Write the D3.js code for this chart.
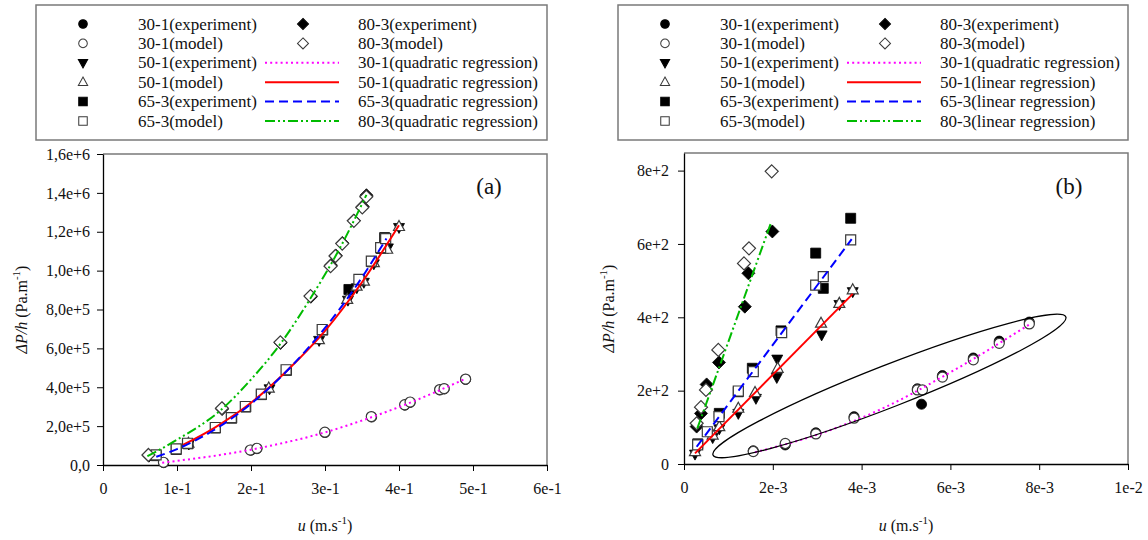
<!DOCTYPE html>
<html>
<head>
<meta charset="utf-8">
<script src="https://cdn.jsdelivr.net/npm/d3@7"></script>
<style>
  body { margin: 0; background: #fff; }
  svg text { font-family: "Liberation Serif", Tinos, "Times New Roman", Times, "DejaVu Serif", "Noto Serif", serif; fill: #111; }
</style>
</head>
<body>
<div id="chart"></div>
<script>
// ---- data ----
// panel (a): u in m/s, dP/h in Pa/m
var a30Exp = [[0.082,12000],[0.2,76000],[0.208,84000],[0.3,167000],[0.363,247000],[0.408,308000],[0.415,322000],[0.455,386000],[0.461,391000],[0.49,440000]];
var a30Model = [[0.0817,14000],[0.199,77000],[0.208,86000],[0.2998,169000],[0.3626,249000],[0.4077,310000],[0.415,324000],[0.455,388000],[0.461,393000],[0.49,442000]];
var a50Exp = [[0.116,108000],[0.225,392000],[0.292,641000],[0.331,848000],[0.343,912000],[0.3525,940000],[0.366,1035000],[0.385,1117000],[0.4,1222000]];
var a50Model = [[0.1155,112000],[0.224,396000],[0.2917,645000],[0.33,852000],[0.3427,920000],[0.3526,946000],[0.366,1041000],[0.384,1110000],[0.4,1227000]];
var a65Exp = [[0.072,48000],[0.099,80000],[0.115,109000],[0.152,190000],[0.174,241000],[0.193,298000],[0.214,362000],[0.248,487000],[0.297,694000],[0.3323,903000],[0.363,1046000],[0.376,1114000],[0.3806,1170000]];
var a65Model = [[0.0718,51600],[0.0989,82600],[0.1142,112000],[0.1517,193000],[0.1734,244000],[0.1923,301000],[0.214,365000],[0.2474,490000],[0.2962,697000],[0.3458,955000],[0.3626,1049000],[0.3752,1118000],[0.382,1165000]];
var a80Exp = [[0.062,48000],[0.161,288000],[0.24,628000],[0.281,866000],[0.308,1028000],[0.3145,1078000],[0.3235,1142000],[0.339,1258000],[0.351,1330000],[0.356,1388000]];
var a80Model = [[0.0614,51600],[0.1607,292000],[0.2397,631000],[0.2804,869000],[0.3075,1023000],[0.3142,1075000],[0.3233,1139000],[0.339,1256000],[0.3504,1325000],[0.3558,1380000]];
// regression curves
var a30Fit = [[0.08,12000],[0.2,79000],[0.3,168000],[0.36,242000],[0.41,313000],[0.49,444000]];
var a50Fit = [[0.108,103000],[0.15,190000],[0.2,320000],[0.25,490000],[0.3,690000],[0.35,940000],[0.4,1233000]];
var a65Fit = [[0.072,42000],[0.1,82000],[0.15,180000],[0.2,315000],[0.25,490000],[0.3,705000],[0.35,965000],[0.383,1165000]];
var a80Fit = [[0.06,45000],[0.1,130000],[0.16,285000],[0.2,440000],[0.24,625000],[0.28,855000],[0.32,1115000],[0.356,1390000]];

// panel (b)
var b30Exp = [[0.00156,36],[0.00228,52],[0.00297,85],[0.00383,129],[0.00535,163],[0.005256,205],[0.00582,241],[0.006516,289],[0.0071,335],[0.007777,387]];
var b30Model = [[0.00156,34],[0.00228,56],[0.00297,82],[0.00383,125],[0.005256,202],[0.00537,202],[0.00582,237],[0.006516,284],[0.0071,329],[0.007777,382]];
var b50Exp = [[0.000248,27],[0.000646,72],[0.000795,96],[0.001223,138],[0.00162,179],[0.0021,286],[0.00209,236],[0.0031,352],[0.0035,435],[0.0038,470]];
var b50Model = [[0.000248,34],[0.000646,79],[0.000795,102],[0.001223,152],[0.0016,195],[0.00211,261],[0.003086,384],[0.003498,438],[0.0038,475]];
var b65Exp = [[0.00031,55],[0.000795,138],[0.001223,197],[0.001539,261],[0.002185,363],[0.002966,575],[0.003137,479],[0.003754,670]];
var b65Model = [[0.000308,52],[0.000525,88],[0.000788,129],[0.001223,199],[0.001561,252],[0.0022,358],[0.002966,488],[0.003137,511],[0.003754,611]];
var b80Exp = [[0.000285,102],[0.000383,138],[0.00051,217],[0.000788,277],[0.00137,429],[0.00145,520],[0.00199,634]];
var b80Model = [[0.000285,111],[0.000383,155],[0.000495,202],[0.000773,311],[0.001351,547],[0.001464,588],[0.001975,798]];
var b30Fit = [[0.0016,32],[0.003,80],[0.0045,153],[0.006,250],[0.0078,382]];
var b50Fit = [[0.000248,29],[0.0038,464]];
var b65Fit = [[0.000285,47],[0.003777,613]];
var b80Fit = [[0.0003,97],[0.00196,658]];
// ellipse around the 30-1 points in (b): ends of the long axis
var bEllipseEnds = [[0.000653,24.6],[0.0086,401]];

// ticks
var aXTicks = [0, 0.1, 0.2, 0.3, 0.4, 0.5, 0.6];
var aXLabels = ["0", "1e-1", "2e-1", "3e-1", "4e-1", "5e-1", "6e-1"];
var aYTicks = [0, 2e5, 4e5, 6e5, 8e5, 1e6, 1.2e6, 1.4e6, 1.6e6];
var aYLabels = ["0,0", "2,0e+5", "4,0e+5", "6,0e+5", "8,0e+5", "1,0e+6", "1,2e+6", "1,4e+6", "1,6e+6"];
var bXTicks = [0, 0.002, 0.004, 0.006, 0.008, 0.01];
var bXLabels = ["0", "2e-3", "4e-3", "6e-3", "8e-3", "1e-2"];
var bYTicks = [0, 200, 400, 600, 800];
var bYLabels = ["0", "2e+2", "4e+2", "6e+2", "8e+2"];

var expNames = ["30-1(experiment)", "30-1(model)", "50-1(experiment)", "50-1(model)", "65-3(experiment)", "65-3(model)"];
var aFitNames = ["30-1(quadratic regression)", "50-1(quadratic regression)", "65-3(quadratic regression)", "80-3(quadratic regression)"];
var bFitNames = ["30-1(quadratic regression)", "50-1(linear regression)", "65-3(linear regression)", "80-3(linear regression)"];

// ---- drawing ----
var svg = d3.select("#chart").append("svg")
  .attr("width", 1148)
  .attr("height", 540);

var frameGray = "#7a7a7a";
var fitStyles = [
  {color: "#ff00ff", dash: "2,3.2"},
  {color: "#ff0000", dash: null},
  {color: "#0000ff", dash: "9,5"},
  {color: "#00bb00", dash: "10,3,2,3,2,3"}
];

// marker path centred on 0,0
function markerPath(kind) {
  if (kind == "circle") return d3.symbol(d3.symbolCircle, 80)();
  if (kind == "square") return "M-5,-5H5V5H-5Z";
  if (kind == "diamond") return "M0,-6.5L6.5,0L0,6.5L-6.5,0Z";
  if (kind == "up") return "M0,-6L5.5,4L-5.5,4Z";
  if (kind == "down") return "M0,6L5.5,-4L-5.5,-4Z";
}

function drawMarkers(g, data, x, y, kind, filled) {
  g.selectAll(null)
    .data(data)
    .enter()
    .append("path")
    .attr("d", markerPath(kind))
    .attr("transform", d => `translate(${x(d[0])},${y(d[1])})`)
    .attr("fill", filled ? "#000" : "#fff")
    .attr("stroke", filled ? "#000" : "#3a3a3a")
    .attr("stroke-width", filled ? 0.8 : 1.2);
}

function drawPanel(p) {
  var x = d3.scaleLinear().domain([0, p.xMax]).range([p.left, p.right]);
  var y = d3.scaleLinear().domain([0, p.yMax]).range([p.bottom, p.top]);

  var g = svg.append("g");

  // top and right of the frame are grey
  g.append("path")
    .attr("d", `M${p.left},${p.top}H${p.right}V${p.bottom}`)
    .attr("fill", "none")
    .attr("stroke", frameGray)
    .attr("stroke-width", 1.5);

  var xAxis = g.append("g")
    .attr("transform", `translate(0,${p.bottom})`)
    .call(d3.axisBottom(x).tickValues(p.xTicks).tickFormat((d, i) => p.xLabels[i]).tickSize(6).tickSizeOuter(0).tickPadding(12));
  var yAxis = g.append("g")
    .attr("transform", `translate(${p.left},0)`)
    .call(d3.axisLeft(y).tickValues(p.yTicks).tickFormat((d, i) => p.yLabels[i]).tickSize(6).tickSizeOuter(0).tickPadding(p.yPad));
  [xAxis, yAxis].forEach(function(a) {
    a.attr("font-family", null);
    a.selectAll("text").attr("font-size", 16).attr("fill", "#111");
    a.selectAll("line").attr("stroke", "#000");
    a.select(".domain").attr("stroke", "#000").attr("stroke-width", 1.3);
  });
  xAxis.selectAll("text").attr("dy", "0.71em");

  // x title
  var xt = g.append("text")
    .attr("x", (p.left + p.right) / 2)
    .attr("y", 531)
    .attr("text-anchor", "middle")
    .attr("font-size", 16);
  xt.append("tspan").attr("font-style", "italic").text("u");
  xt.append("tspan").text(" (m.s");
  xt.append("tspan").attr("font-size", 11).attr("dy", -7).text("-1");
  xt.append("tspan").attr("dy", 7).text(")");

  // y title
  var yt = g.append("text")
    .attr("transform", `translate(${p.yTitleX},${(p.top + p.bottom) / 2}) rotate(-90)`)
    .attr("text-anchor", "middle")
    .attr("font-size", 16);
  yt.append("tspan").attr("font-style", "italic").text("ΔP/h");
  yt.append("tspan").text(" (Pa.m");
  yt.append("tspan").attr("font-size", 11).attr("dy", -7).text("-1");
  yt.append("tspan").attr("dy", 7).text(")");

  // panel tag
  g.append("text")
    .attr("x", p.tagX)
    .attr("y", 194)
    .attr("text-anchor", "middle")
    .attr("font-size", 23)
    .text(p.tag);

  // experiment markers below, model markers on top
  var m = g.append("g");
  drawMarkers(m, p.s30[0], x, y, "circle", true);
  drawMarkers(m, p.s50[0], x, y, "down", true);
  drawMarkers(m, p.s65[0], x, y, "square", true);
  drawMarkers(m, p.s80[0], x, y, "diamond", true);
  drawMarkers(m, p.s30[1], x, y, "circle", false);
  drawMarkers(m, p.s50[1], x, y, "up", false);
  drawMarkers(m, p.s65[1], x, y, "square", false);
  drawMarkers(m, p.s80[1], x, y, "diamond", false);

  // regression lines on top
  var line = d3.line().x(d => x(d[0])).y(d => y(d[1])).curve(d3.curveMonotoneX);
  p.fits.forEach(function(f, i) {
    g.append("path")
      .attr("d", line(f))
      .attr("fill", "none")
      .attr("stroke", fitStyles[i].color)
      .attr("stroke-width", 2)
      .attr("stroke-dasharray", fitStyles[i].dash);
  });

  if (p.ellipse) {
    var e0 = [x(p.ellipse[0][0]), y(p.ellipse[0][1])];
    var e1 = [x(p.ellipse[1][0]), y(p.ellipse[1][1])];
    var ang = Math.atan2(e1[1] - e0[1], e1[0] - e0[0]) * 180 / Math.PI;
    var rx = Math.hypot(e1[0] - e0[0], e1[1] - e0[1]) / 2;
    g.append("ellipse")
      .attr("transform", `translate(${(e0[0] + e1[0]) / 2},${(e0[1] + e1[1]) / 2}) rotate(${ang})`)
      .attr("rx", rx)
      .attr("ry", 21)
      .attr("fill", "none")
      .attr("stroke", "#000")
      .attr("stroke-width", 1.3);
  }

  drawLegend(p.legendLeft, p.legendRight, p.fitNames);
}

function drawLegend(left, right, fitNames) {
  var lg = svg.append("g");
  lg.append("rect")
    .attr("x", left).attr("y", 5)
    .attr("width", right - left).attr("height", 135)
    .attr("fill", "#fff")
    .attr("stroke", frameGray)
    .attr("stroke-width", 1.5);

  var rowY = i => 24 + i * 19.4;
  var kinds = [["circle", true], ["circle", false], ["down", true], ["up", false], ["square", true], ["square", false]];
  kinds.forEach(function(k, i) {
    lg.append("path")
      .attr("d", markerPath(k[0]))
      .attr("transform", `translate(${left + 47},${rowY(i)}) scale(0.85)`)
      .attr("fill", k[1] ? "#000" : "#fff")
      .attr("stroke", k[1] ? "#000" : "#3a3a3a")
      .attr("stroke-width", 1.2);
    lg.append("text")
      .attr("x", left + 102).attr("y", rowY(i) + 5.5)
      .attr("font-size", 17)
      .text(expNames[i]);
  });
  ["80-3(experiment)", "80-3(model)"].forEach(function(t, i) {
    lg.append("path")
      .attr("d", markerPath("diamond"))
      .attr("transform", `translate(${left + 267},${rowY(i)}) scale(0.85)`)
      .attr("fill", i == 0 ? "#000" : "#fff")
      .attr("stroke", i == 0 ? "#000" : "#3a3a3a")
      .attr("stroke-width", 1.2);
    lg.append("text")
      .attr("x", left + 322).attr("y", rowY(i) + 5.5)
      .attr("font-size", 17)
      .text(t);
  });
  fitNames.forEach(function(t, i) {
    lg.append("line")
      .attr("x1", left + 229).attr("x2", left + 303)
      .attr("y1", rowY(i + 2)).attr("y2", rowY(i + 2))
      .attr("stroke", fitStyles[i].color)
      .attr("stroke-width", 2)
      .attr("stroke-dasharray", fitStyles[i].dash);
    lg.append("text")
      .attr("x", left + 322).attr("y", rowY(i + 2) + 5.5)
      .attr("font-size", 17)
      .text(t);
  });
}

drawPanel({
  left: 103, right: 547, top: 154, bottom: 465,
  xMax: 0.6, yMax: 1.6e6,
  xTicks: aXTicks, xLabels: aXLabels, yTicks: aYTicks, yLabels: aYLabels,
  yPad: 7, yTitleX: 27, tag: "(a)", tagX: 489,
  s30: [a30Exp, a30Model], s50: [a50Exp, a50Model], s65: [a65Exp, a65Model], s80: [a80Exp, a80Model],
  fits: [a30Fit, a50Fit, a65Fit, a80Fit],
  legendLeft: 36, legendRight: 547, fitNames: aFitNames
});

drawPanel({
  left: 684, right: 1128, top: 153, bottom: 464,
  xMax: 0.01, yMax: 848,
  xTicks: bXTicks, xLabels: bXLabels, yTicks: bYTicks, yLabels: bYLabels,
  yPad: 9, yTitleX: 614, tag: "(b)", tagX: 1069,
  s30: [b30Exp, b30Model], s50: [b50Exp, b50Model], s65: [b65Exp, b65Model], s80: [b80Exp, b80Model],
  fits: [b30Fit, b50Fit, b65Fit, b80Fit],
  ellipse: bEllipseEnds,
  legendLeft: 618, legendRight: 1128, fitNames: bFitNames
});
</script>
</body>
</html>
